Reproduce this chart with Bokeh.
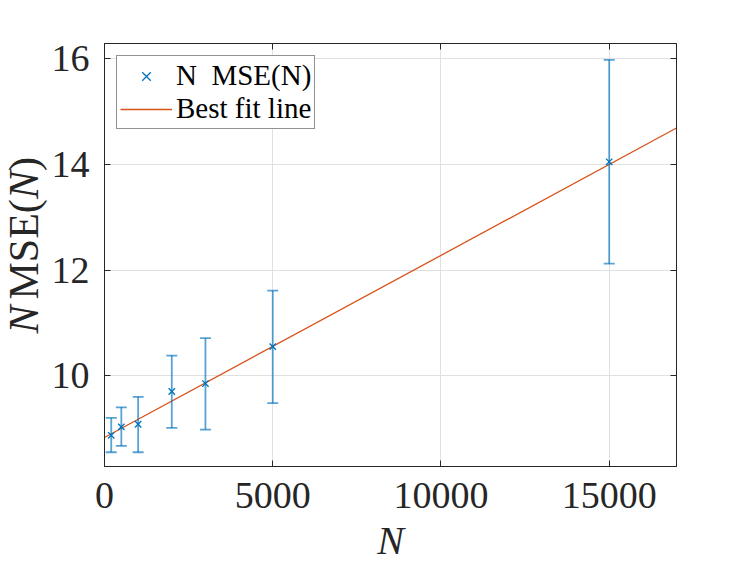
import math
from bokeh.plotting import figure
from bokeh.layouts import row
from bokeh.models import (Range1d, LinearAxis, Legend, LegendItem, Label,
                          FixedTicker, CustomJSTickFormatter, ColumnDataSource)
from bokeh.embed import file_html
from bokeh.resources import INLINE

# ---- data ----
N_values = [200, 500, 1000, 2000, 3000, 5000, 15000]
nmse = [8.87, 9.03, 9.08, 9.70, 9.85, 10.55, 14.05]
err_lower = [8.55, 8.67, 8.55, 9.01, 8.98, 9.48, 12.12]
err_upper = [9.20, 9.40, 9.60, 10.38, 10.71, 11.61, 15.98]
fit_x = [0, 17000]
fit_y = [8.83, 14.69]
x_ticks = [0, 5000, 10000, 15000]
y_ticks = [10, 12, 14, 16]
x_lim = (0, 17000)
y_lim = (8.28, 16.29)

BLUE = "#0072BD"
ORANGE = "#D95319"
DARK = "#262626"
FONT = "Liberation Serif"

TOTAL_W, H = 746, 570
LAB_W = 48
W = TOTAL_W - LAB_W
FRAME_TOP, FRAME_BOTTOM = 43, 466
ML, MR, MT, MB = 104 - LAB_W, TOTAL_W - 676, FRAME_TOP, H - FRAME_BOTTOM

y_range = Range1d(*y_lim)
p = figure(width=W, height=H, x_range=Range1d(*x_lim), y_range=y_range,
           output_backend="svg", toolbar_location=None,
           min_border_left=ML, min_border_right=MR, min_border_top=MT,
           min_border_bottom=MB)
p.background_fill_color = "white"
p.border_fill_color = "white"
p.outline_line_color = DARK
p.outline_line_width = 1

src = ColumnDataSource(dict(N=N_values, mse=nmse, lo=err_lower, hi=err_upper))

fit = p.line(fit_x, fit_y, line_color=ORANGE, line_width=1.3)
bars = p.segment(x0="N", y0="lo", x1="N", y1="hi", source=src,
                 line_color=BLUE, line_width=1.8, line_alpha=0.65)
p.scatter(x="N", y="hi", source=src, marker="dash", size=11,
          line_color=BLUE, line_width=1.8, line_alpha=0.65)
p.scatter(x="N", y="lo", source=src, marker="dash", size=11,
          line_color=BLUE, line_width=1.8, line_alpha=0.65)
pts = p.scatter(x="N", y="mse", source=src, marker="x", size=9,
                line_color=BLUE, line_width=1.3)
# legend-only vertical bar
vleg = p.scatter(x=[], y=[], marker="dash", angle=math.pi / 2, size=11,
                 line_color=BLUE, line_width=1.8, line_alpha=0.65)

# axes styling
for ax in (p.xaxis[0], p.yaxis[0]):
    ax.axis_line_color = DARK
    ax.major_tick_line_color = DARK
    ax.major_tick_in = 6
    ax.major_tick_out = 0
    ax.minor_tick_in = 0
    ax.minor_tick_out = 0
    ax.major_label_text_font = FONT
    ax.major_label_text_font_size = "38px"
    ax.major_label_text_color = DARK
p.xaxis[0].ticker = FixedTicker(ticks=x_ticks)
p.yaxis[0].ticker = FixedTicker(ticks=y_ticks)
p.xaxis[0].major_label_standoff = 16
p.yaxis[0].major_label_standoff = 15

p.xaxis[0].axis_label = "N"
p.xaxis[0].axis_label_text_font = FONT
p.xaxis[0].axis_label_text_font_style = "italic"
p.xaxis[0].axis_label_text_font_size = "40px"
p.xaxis[0].axis_label_text_color = DARK
p.xaxis[0].axis_label_standoff = 7

for loc, ticks in (("right", y_ticks), ("above", x_ticks)):
    ax = LinearAxis(ticker=FixedTicker(ticks=ticks),
                    formatter=CustomJSTickFormatter(code="return ''"))
    ax.axis_line_color = DARK
    ax.major_tick_line_color = DARK
    ax.major_tick_in = 6
    ax.major_tick_out = 0
    ax.minor_tick_in = 0
    ax.minor_tick_out = 0
    ax.major_label_text_font_size = "0px"
    p.add_layout(ax, loc)

p.xgrid.grid_line_color = "#e0e0e0"
p.ygrid.grid_line_color = "#e0e0e0"
p.xgrid.ticker = FixedTicker(ticks=x_ticks)
p.ygrid.ticker = FixedTicker(ticks=y_ticks)

# legend
legend = Legend(items=[LegendItem(label="N  MSE(N)", renderers=[vleg, pts]),
                       LegendItem(label="Best fit line", renderers=[fit])],
                location="top_left", margin=12, padding=3, spacing=0,
                glyph_width=52, glyph_height=30, label_height=30,
                label_standoff=4, label_text_font=FONT,
                label_text_font_size="29px", label_text_line_height=1.0,
                label_text_color="black",
                border_line_color=DARK, border_line_width=1,
                background_fill_color="white", background_fill_alpha=1.0)
p.add_layout(legend)

# y-axis title in a narrow strip figure; its frame is aligned with the main frame
ylab = figure(width=LAB_W, height=H, x_range=Range1d(0, LAB_W), y_range=y_range,
              output_backend="svg", toolbar_location=None,
              x_axis_location=None, y_axis_location=None,
              min_border_left=0, min_border_right=0, min_border_top=MT,
              min_border_bottom=MB)
ylab.grid.visible = False
ylab.outline_line_color = None
ylab.background_fill_color = "white"
ylab.border_fill_color = "white"

dy = (y_lim[1] - y_lim[0]) / (FRAME_BOTTOM - FRAME_TOP)
ylab_x = 23
ylab_start_px = 333.0          # page y where the title starts (bottom end)
pieces = [("N", "italic", 0.0), ("MSE(", "normal", 34.0),
          ("N", "italic", 134.5), (")", "normal", 162.5)]
for txt, style, off in pieces:
    yd = y_lim[0] + (FRAME_BOTTOM - ylab_start_px + off) * dy
    ylab.add_layout(Label(x=ylab_x, y=yd, text=txt,
                          angle=math.pi / 2, text_font=FONT, text_font_style=style,
                          text_font_size="42px", text_color=DARK,
                          text_align="left", text_baseline="middle"))

layout = row(ylab, p, spacing=0)
open("out.html", "w").write(file_html(layout, INLINE))
